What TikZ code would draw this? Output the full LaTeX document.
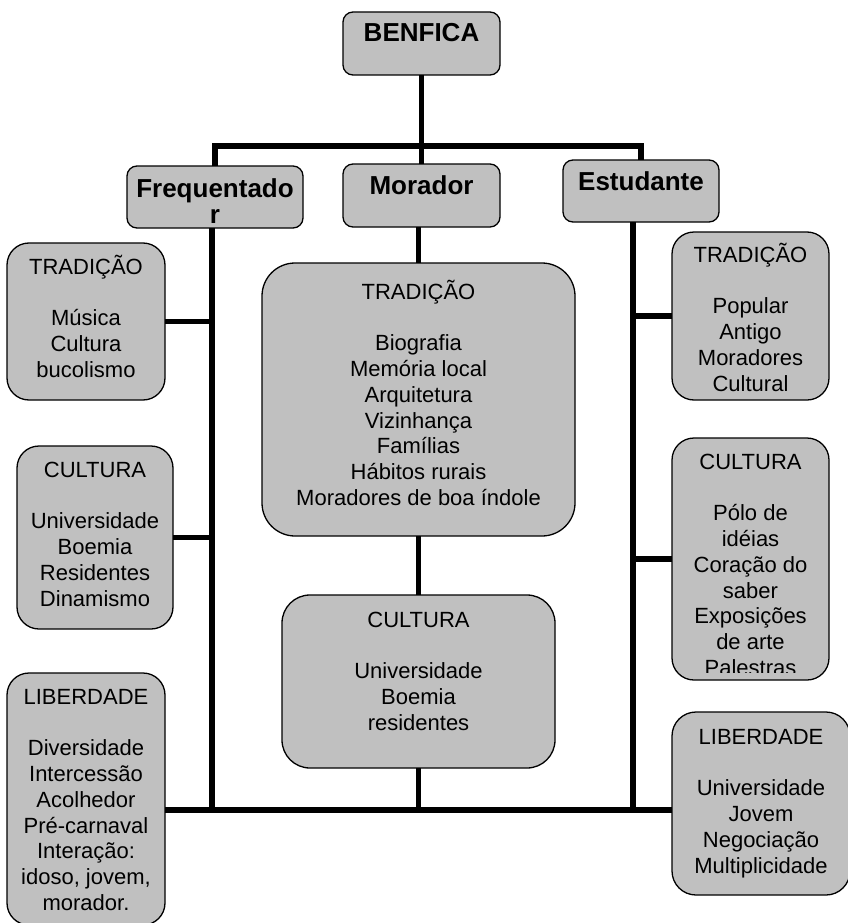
\documentclass[tikz,border=0pt]{standalone}
\usepackage{fontspec}
\setmainfont{Liberation Sans}
\definecolor{boxgray}{HTML}{C0C0C0}
\newcommand\bodyf{\fontsize{22}{25.8}\selectfont}
\newcommand\titlef{\fontsize{26}{26}\selectfont\bfseries}
\newcommand\bx[4]{\parbox[c][#2][t]{#1}{\centering\bodyf\rule{0pt}{#3}#4\par}}
\newcommand\tbx[4]{\parbox[c][#2][t]{#1}{\centering\titlef\rule{0pt}{#3}#4\par}}
\begin{document}
\begin{tikzpicture}[x=1pt,y=-1pt,
  box/.style={draw=black, line width=1.3pt, fill=boxgray, inner sep=0pt, outer sep=0pt},
  conn/.style={line width=5.8pt, line join=miter}]
\useasboundingbox (0,0) rectangle (848,923);

% title boxes
\node[box, rounded corners=10pt] (Benf) at (421.5,43.5) {\tbx{157pt}{63pt}{30pt}{BENFICA}};
\node[box, rounded corners=10pt] (Freq) at (215,197) {\tbx{176pt}{62pt}{31pt}{Frequentado\\r}};
\node[box, rounded corners=10pt] (Mor) at (421.5,195.5) {\tbx{157pt}{63pt}{30pt}{Morador}};
\node[box, rounded corners=10pt] (Est) at (641,191) {\tbx{156pt}{62pt}{30pt}{Estudante}};

% left column
\node[box, rounded corners=22pt] (LTrad) at (86,321.5) {\bx{158pt}{157pt}{31pt}{TRADIÇÃO\\[25.8pt]Música\\Cultura\\bucolismo}};
\node[box, rounded corners=22pt] (LCult) at (95,537.5) {\bx{156pt}{183pt}{31pt}{CULTURA\\[25.8pt]Universidade\\Boemia\\Residentes\\Dinamismo}};
\node[box, rounded corners=22pt] (LLib) at (86,799) {\bx{158pt}{252pt}{31pt}{LIBERDADE\\[25.8pt]Diversidade\\Intercessão\\Acolhedor\\Pré-carnaval\\Interação:\\idoso, jovem,\\morador.}};

% centre column
\node[box, rounded corners=33pt] (CTrad) at (418.5,399.5) {\bx{313pt}{273pt}{36pt}{TRADIÇÃO\\[25.8pt]Biografia\\Memória local\\Arquitetura\\Vizinhança\\Famílias\\Hábitos rurais\\Moradores de boa índole}};
\node[box, rounded corners=28pt] (CCult) at (418.5,681.5) {\bx{273pt}{173pt}{32pt}{CULTURA\\[25.8pt]Universidade\\Boemia\\residentes}};

% right column
\node[box, rounded corners=22pt] (RTrad) at (750.5,316) {\bx{157pt}{168pt}{30pt}{TRADIÇÃO\\[25.8pt]Popular\\Antigo\\Moradores\\Cultural}};
\node[box, rounded corners=22pt, minimum width=157pt, minimum height=242pt,
  path picture={\clip ([yshift=8pt]path picture bounding box.south west) rectangle (path picture bounding box.north east);
    \node[inner sep=0pt, anchor=north] (RCultTxt) at (path picture bounding box.north)
      {\bx{157pt}{242pt}{31pt}{CULTURA\\[25.8pt]Pólo de\\idéias\\Coração do\\saber\\Exposições\\de arte\\Palestras}};}]
  (RCult) at (750.5,559) {};
\node[box, rounded corners=24pt] (RLib) at (761,803.5) {\bx{178pt}{183pt}{32pt}{LIBERDADE\\[25.8pt]Universidade\\Jovem\\Negociação\\Multiplicidade}};

% connectors
\coordinate (hub) at (421.5,146);
\coordinate (bot) at (0,810);
\draw[conn] (Benf.south) -- (hub);
\draw[conn] (Freq.north) -- (Freq.north |- hub) -- (Est.north |- hub) -- (Est.north);
\draw[conn] (hub) -- (Mor.north);

\coordinate (fl) at ([xshift=-3pt]Freq.south);
\coordinate (el) at ([xshift=-8pt]Est.south);
\draw[conn] (fl) -- (fl |- bot);
\draw[conn] (el) -- (el |- bot);
\draw[conn] (LTrad.east) -- (LTrad.east -| fl);
\draw[conn] (LCult.east) -- (LCult.east -| fl);
\draw[conn] (RTrad.west) -- (RTrad.west -| el);
\draw[conn] (RCult.west) -- (RCult.west -| el);

\draw[conn] (Mor.south -| CTrad.north) -- (CTrad.north);
\draw[conn] (CTrad.south) -- (CCult.north);
\draw[conn] (CCult.south) -- (CCult.south |- bot);
\draw[conn] (LLib.east |- bot) -- (RLib.west |- bot);
\end{tikzpicture}
\end{document}
